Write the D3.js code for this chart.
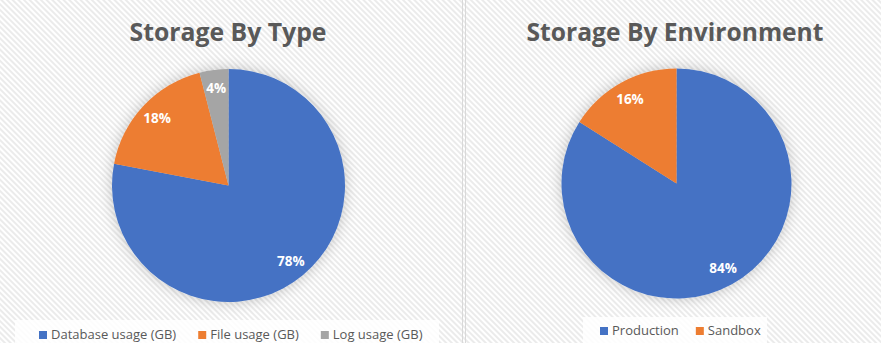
<!DOCTYPE html>
<html>
<head>
<meta charset="utf-8">
<script src="https://cdn.jsdelivr.net/npm/d3@7"></script>
<style>
  html, body { margin: 0; padding: 0; background: #fff; }
  svg { display: block; }
</style>
</head>
<body>
<div id="chart"></div>
<script>
// chart data
const typeLabels = ['Database usage (GB)', 'File usage (GB)', 'Log usage (GB)']
const typeValues = [78, 18, 4]
const envLabels = ['Production', 'Sandbox']
const envValues = [84, 16]
const colors = ['#4472C4', '#ED7D31', '#A5A5A5']

const width = 881
const height = 343

const svg = d3.select('#chart').append('svg')
  .attr('width', width)
  .attr('height', height)

const defs = svg.append('defs')

// light diagonal hatch used as chart area background
const pat = defs.append('pattern')
  .attr('id', 'hatch')
  .attr('patternUnits', 'userSpaceOnUse')
  .attr('width', 4)
  .attr('height', 4)
  .attr('patternTransform', 'rotate(-45)')
pat.append('rect').attr('width', 4).attr('height', 4).attr('fill', '#ffffff')
pat.append('rect').attr('width', 2).attr('height', 4).attr('fill', '#ebebeb')

// soft glow around the pies
const glow = defs.append('filter')
  .attr('id', 'glow')
  .attr('x', '-30%').attr('y', '-30%')
  .attr('width', '160%').attr('height', '160%')
glow.append('feGaussianBlur')
  .attr('in', 'SourceAlpha')
  .attr('stdDeviation', 7)
  .attr('result', 'blur')
glow.append('feFlood').attr('flood-color', '#000').attr('flood-opacity', 0.22)
glow.append('feComposite').attr('in2', 'blur').attr('operator', 'in').attr('result', 'shadow')
const merge = glow.append('feMerge')
merge.append('feMergeNode').attr('in', 'shadow')
merge.append('feMergeNode').attr('in', 'SourceGraphic')

svg.append('rect')
  .attr('width', width)
  .attr('height', height)
  .attr('fill', 'url(#hatch)')

// panel separators
svg.append('line')
  .attr('x1', 462.5).attr('x2', 462.5).attr('y1', 0).attr('y2', height)
  .attr('stroke', '#d9d9d9').attr('stroke-width', 1)
svg.append('line')
  .attr('x1', 465.5).attr('x2', 465.5).attr('y1', 0).attr('y2', height)
  .attr('stroke', '#d9d9d9').attr('stroke-width', 1)

const panels = [
  {
    title: 'Storage By Type', titleWidth: 197,
    labels: typeLabels, values: typeValues,
    cx: 228.5, cy: 185.5, r: 116.5, titleX: 228,
    legendBox: [15, 320, 424], legendY: 339, legendX: 39, legendGap: 22
  },
  {
    title: 'Storage By Environment', titleWidth: 297,
    labels: envLabels, values: envValues,
    cx: 676.5, cy: 183.5, r: 115, titleX: 675,
    legendBox: [583, 317, 184], legendY: 335, legendX: 600, legendGap: 17
  }
]

panels.forEach(p => drawPanel(p))

function drawPanel(p) {
  const g = svg.append('g')

  g.append('text')
    .attr('x', p.titleX)
    .attr('y', 41)
    .attr('text-anchor', 'middle')
    .attr('font-family', 'Open Sans')
    .attr('font-weight', 'bold')
    .attr('font-size', 25)
    .attr('fill', '#595959')
    .attr('textLength', p.titleWidth)
    .attr('lengthAdjust', 'spacingAndGlyphs')
    .text(p.title)

  const data = p.labels.map((d, i) => ({ name: d, value: p.values[i], color: colors[i] }))
  const total = d3.sum(p.values)

  const pie = d3.pie().sort(null).value(d => d.value)
  const arc = d3.arc().innerRadius(0).outerRadius(p.r)
  const labelArc = d3.arc().innerRadius(p.r * 0.84).outerRadius(p.r * 0.84)

  const arcs = pie(data)
  const pg = g.append('g').attr('transform', `translate(${p.cx},${p.cy})`)

  pg.append('g')
    .attr('filter', 'url(#glow)')
    .selectAll('path')
    .data(arcs)
    .join('path')
    .attr('d', arc)
    .attr('fill', d => d.data.color)

  pg.selectAll('.lbl')
    .data(arcs)
    .join('text')
    .attr('class', 'lbl')
    .attr('transform', d => `translate(${labelArc.centroid(d)})`)
    .attr('text-anchor', 'middle')
    .attr('dy', '0.35em')
    .attr('font-family', 'Open Sans')
    .attr('font-weight', 'bold')
    .attr('font-size', 13.5)
    .attr('fill', '#ffffff')
    .text(d => Math.round(d.data.value / total * 100) + '%')

  // legend
  const [bx, by, bw] = p.legendBox
  g.append('rect')
    .attr('x', bx).attr('y', by)
    .attr('width', bw).attr('height', height - by)
    .attr('fill', '#ffffff')
    .attr('opacity', 0.85)

  let x = p.legendX
  data.forEach(d => {
    g.append('rect')
      .attr('x', x).attr('y', p.legendY - 8)
      .attr('width', 8).attr('height', 8)
      .attr('fill', d.color)
    const t = g.append('text')
      .attr('x', x + 12)
      .attr('y', p.legendY)
      .attr('font-family', 'Open Sans')
      .attr('font-size', 13)
      .attr('fill', '#595959')
      .text(d.name)
    x += 12 + t.node().getComputedTextLength() + p.legendGap
  })
}
</script>
</body>
</html>
